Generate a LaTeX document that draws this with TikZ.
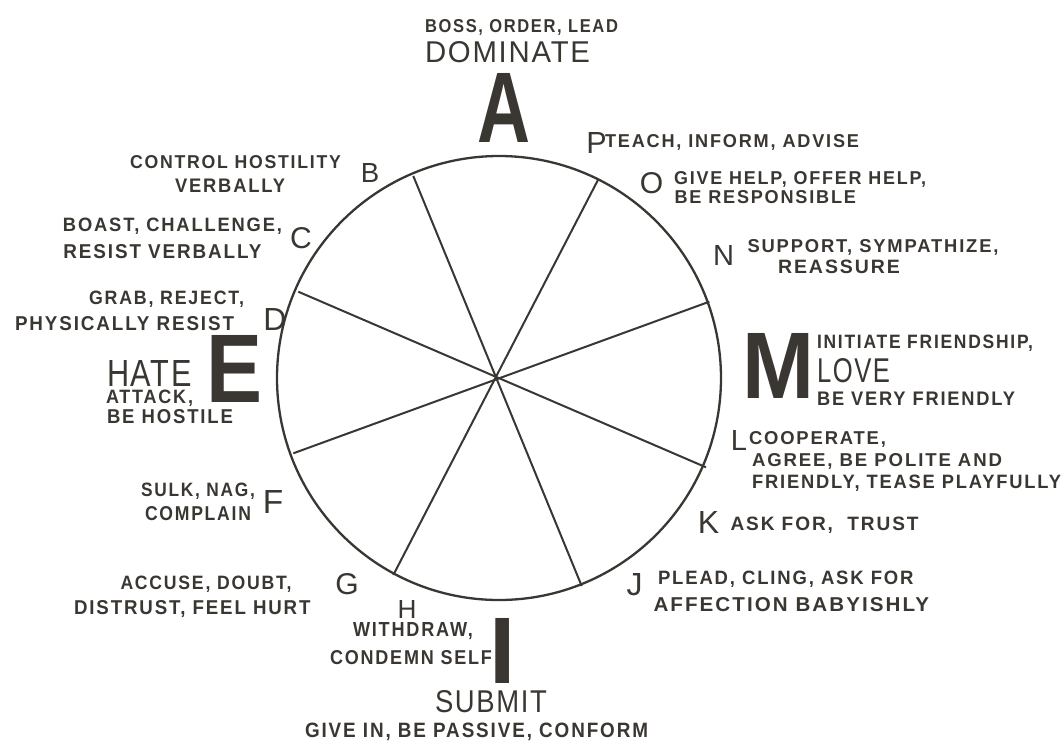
\documentclass[tikz,border=0pt]{standalone}
\usepackage{fontspec}
\usepackage{graphicx}
\setmainfont{Liberation Sans}
\newfontfamily\labfont{Liberation Sans}[LetterSpace=10]
\newfontfamily\wordfont{Liberation Sans}[LetterSpace=6]
\definecolor{ink}{RGB}{58,54,50}
\newcommand{\fitlab}[3]{\resizebox{#1pt}{#2pt}{\labfont\bfseries #3}}
\newcommand{\fitword}[3]{\resizebox{#1pt}{#2pt}{\wordfont #3}}
\newcommand{\fitbig}[3]{\resizebox{#1pt}{#2pt}{\bfseries #3}}
\newcommand{\letr}[2]{\resizebox{!}{#1pt}{#2}}
\begin{document}
\begin{tikzpicture}[x=1pt,y=-1pt,
  every node/.style={inner sep=0pt, outer sep=0pt, text=ink},
  lab/.style={anchor=base west},
  ltr/.style={anchor=base},
  spoke/.style={draw=ink, line width=2pt},
  wheelstyle/.style={draw=ink, line width=2.3pt, circle, minimum size=444pt}]
\useasboundingbox (0,0) rectangle (1063,740);

% circle and spokes
\node[wheelstyle] (wheel) at (499,378) {};
\coordinate (pB) at (413.3,176);
\coordinate (pJ) at (581.7,586);
\coordinate (pO) at (598.3,179.3);
\coordinate (pH) at (393.3,575);
\coordinate (pN) at (709.3,301.7);
\coordinate (pF) at (293.3,453.3);
\coordinate (pD) at (298.3,291.7);
\coordinate (pK) at (706,467.3);
\draw[spoke] (pB) -- (pJ);
\draw[spoke] (pO) -- (pH);
\draw[spoke] (pN) -- (pF);
\draw[spoke] (pD) -- (pK);

% top
\node[lab] (t1) at (425,32) {\fitlab{193}{13}{BOSS, ORDER, LEAD}};
\node[lab] (wDom) at (425,62.5) {\fitword{165}{21}{DOMINATE}};
\node[ltr] (bA) at (504,142) {\fitbig{53}{69}{A}};

% right side
\node[ltr] (lP) at (596.5,153) {\letr{21}{P}};
\node[lab] (t2) at (605,147.5) {\fitlab{254}{13}{TEACH, INFORM, ADVISE}};
\node[ltr] (lO) at (651.5,193) {\letr{21}{O}};
\node[lab] (t3) at (674,184) {\fitlab{252}{13}{GIVE HELP, OFFER HELP,}};
\node[lab] (t4) at (674.5,203) {\fitlab{181.5}{13}{BE RESPONSIBLE}};
\node[ltr] (lN) at (723.5,265) {\letr{20}{N}};
\node[lab] (t5) at (747.5,252) {\fitlab{251}{13}{SUPPORT, SYMPATHIZE,}};
\node[lab] (t6) at (778,273) {\fitlab{122}{13.5}{REASSURE}};
\node[ltr] (bM) at (778,398) {\fitbig{72}{65}{M}};
\node[lab] (t7) at (817,348) {\fitlab{216}{13.5}{INITIATE FRIENDSHIP,}};
\node[lab] (wLove) at (817,382) {\fitword{73}{24}{LOVE}};
\node[lab] (t8) at (817,405) {\fitlab{198}{13.5}{BE VERY FRIENDLY}};
\node[ltr] (lL) at (739,450) {\letr{20}{L}};
\node[lab] (t9) at (749,444) {\fitlab{137}{13}{COOPERATE,}};
\node[lab] (t10) at (752,466) {\fitlab{250}{13}{AGREE, BE POLITE AND}};
\node[lab] (t11) at (752,488) {\fitlab{309}{13.5}{FRIENDLY, TEASE PLAYFULLY}};
\node[ltr] (lK) at (708.5,533) {\letr{22}{K}};
\node[lab] (t12) at (730.5,530) {\fitlab{188}{13.5}{ASK FOR,~~TRUST}};
\node[ltr] (lJ) at (634.5,595) {\letr{22}{J}};
\node[lab] (t13) at (658,584) {\fitlab{255.5}{13.5}{PLEAD, CLING, ASK FOR}};
\node[lab] (t14) at (653.5,611.5) {\fitlab{275.5}{14}{AFFECTION BABYISHLY}};

% bottom
\node[ltr] (bI) at (502.5,683) {\letr{65}{\bfseries I}};
\node[lab] (wSub) at (435,712) {\fitword{112}{22}{SUBMIT}};
\node[lab] (t15) at (305,737) {\fitlab{343}{14.5}{GIVE IN, BE PASSIVE, CONFORM}};
\node[ltr] (lH) at (407,618) {\letr{18}{H}};
\node[lab] (t16) at (353,636) {\fitlab{120}{14}{WITHDRAW,}};
\node[lab] (t17) at (330,664) {\fitlab{162}{14}{CONDEMN SELF}};
\node[ltr] (lG) at (347,594) {\letr{21}{G}};
\node[lab] (t18) at (120.5,589) {\fitlab{171}{13.5}{ACCUSE, DOUBT,}};
\node[lab] (t19) at (74,614) {\fitlab{236.5}{14}{DISTRUST, FEEL HURT}};

% left side
\node[ltr] (lF) at (273,513) {\letr{23}{F}};
\node[lab] (t20) at (141,496) {\fitlab{114}{13.5}{SULK, NAG,}};
\node[lab] (t21) at (145,520) {\fitlab{106}{14}{COMPLAIN}};
\node[ltr] (bE) at (235,402) {\fitbig{56}{67}{E}};
\node[lab] (wHate) at (107,386) {\fitword{85}{26}{HATE}};
\node[lab] (t22) at (106,403) {\fitlab{87}{13.5}{ATTACK,}};
\node[lab] (t23) at (107,423.5) {\fitlab{126}{14}{BE HOSTILE}};
\node[ltr] (lD) at (275,330) {\letr{22}{D}};
\node[lab] (t24) at (89,304) {\fitlab{155}{13.5}{GRAB, REJECT,}};
\node[lab] (t25) at (15,330) {\fitlab{219}{14}{PHYSICALLY RESIST}};
\node[ltr] (lC) at (301,248) {\letr{21}{C}};
\node[lab] (t26) at (63,231) {\fitlab{219}{13.5}{BOAST, CHALLENGE,}};
\node[lab] (t27) at (63.4,258) {\fitlab{198}{14}{RESIST VERBALLY}};
\node[ltr] (lB) at (370,182) {\letr{19}{B}};
\node[lab] (t28) at (130,168) {\fitlab{211}{13}{CONTROL HOSTILITY}};
\node[lab] (t29) at (175,192) {\fitlab{110}{13.5}{VERBALLY}};
\end{tikzpicture}
\end{document}
